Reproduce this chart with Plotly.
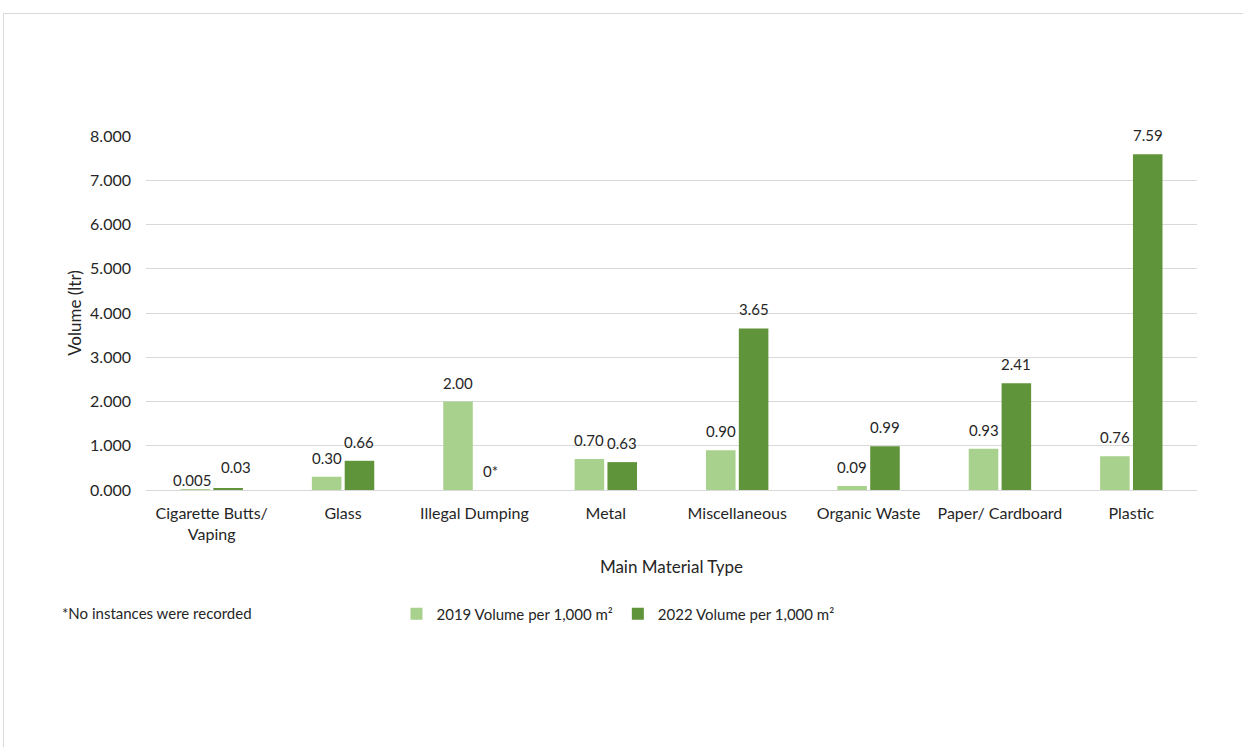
import plotly.graph_objects as go

categories = ["Cigarette Butts/<br>Vaping", "Glass", "Illegal Dumping", "Metal",
              "Miscellaneous", "Organic Waste", "Paper/ Cardboard", "Plastic"]
vol_2019 = [0.005, 0.30, 2.00, 0.70, 0.90, 0.09, 0.93, 0.76]
vol_2022 = [0.03, 0.66, 0, 0.63, 3.65, 0.99, 2.41, 7.59]
labels_2019 = ["0.005", "0.30", "2.00", "0.70", "0.90", "0.09", "0.93", "0.76"]
labels_2022 = ["0.03", "0.66", "0*", "0.63", "3.65", "0.99", "2.41", "7.59"]

W, H = 1243, 747
L, R, T, B = 146, 46, 136, 257
FONT = "Lato, 'Open Sans', sans-serif"
TXT = "#262626"
BARGAP = 0.5
GROUPGAP = 0.1

fig = go.Figure()
fig.add_trace(go.Bar(
    x=categories, y=vol_2019, name="2019 Volume per 1,000 m²",
    marker=dict(color="#A9D18E", line=dict(width=0)),
))
fig.add_trace(go.Bar(
    x=categories, y=vol_2022, name="2022 Volume per 1,000 m²",
    marker=dict(color="#5F943A", line=dict(width=0)),
))

pw = W - L - R
ph = H - T - B


def px_x(px):
    return (px - L) / pw


def px_y(py):
    return (H - B - py) / ph


# value labels sit above each bar, shifted to the bar's slot in the group;
# the two tiny cigarette-butt labels are nudged apart so they stay readable
slot = pw / len(categories) * (1 - BARGAP) / 2
nudge = {(0, 0): (-3, -9), (1, 0): (8, 3)}
annotations = []
for s, (vals, texts, sign) in enumerate(((vol_2019, labels_2019, -1),
                                         (vol_2022, labels_2022, 1))):
    for i, (cat, v, t) in enumerate(zip(categories, vals, texts)):
        dx, dy = nudge.get((s, i), (0, 0))
        annotations.append(dict(
            x=cat, y=v, xref="x", yref="y", text=t, showarrow=False,
            xanchor="center", yanchor="bottom",
            xshift=sign * slot / 2 + dx, yshift=8 + dy,
            font=dict(size=15, color=TXT, family=FONT),
        ))

annotations.append(dict(
    text="*No instances were recorded", xref="paper", yref="paper",
    x=px_x(60), y=px_y(613), xanchor="left", yanchor="middle",
    showarrow=False, font=dict(size=15, color=TXT, family=FONT),
))

fig.update_layout(
    width=W, height=H,
    margin=dict(l=L, r=R, t=T, b=B, autoexpand=False),
    paper_bgcolor="white", plot_bgcolor="white",
    font=dict(family=FONT, color=TXT, size=16),
    barmode="group", bargap=BARGAP, bargroupgap=GROUPGAP,
    showlegend=True,
    legend=dict(orientation="h", x=px_x(618), xanchor="center",
                y=px_y(614), yanchor="middle",
                font=dict(size=15, color=TXT, family=FONT),
                itemwidth=30, traceorder="normal"),
    xaxis=dict(
        showgrid=False, showline=False, ticks="", ticklabelstandoff=12,
        tickfont=dict(size=16, color=TXT),
        title=dict(text="Main Material Type", font=dict(size=17, color=TXT), standoff=19),
    ),
    yaxis=dict(
        range=[0, 8], dtick=1, tickformat=".3f",
        showgrid=True, gridcolor="#D9D9D9", gridwidth=1,
        zeroline=True, zerolinecolor="#D9D9D9", zerolinewidth=1,
        showline=False, ticks="", ticklabelstandoff=14,
        tickfont=dict(size=16, color=TXT),
        title=dict(text="Volume (ltr)", font=dict(size=17, color=TXT), standoff=4),
    ),
    annotations=annotations,
    shapes=[dict(
        type="rect", xref="paper", yref="paper",
        x0=px_x(3.5), x1=px_x(1260), y0=px_y(13.5), y1=px_y(770),
        line=dict(color="#D9D9D9", width=1), fillcolor="rgba(0,0,0,0)",
        layer="below",
    )],
)

fig.write_html("out.html")
